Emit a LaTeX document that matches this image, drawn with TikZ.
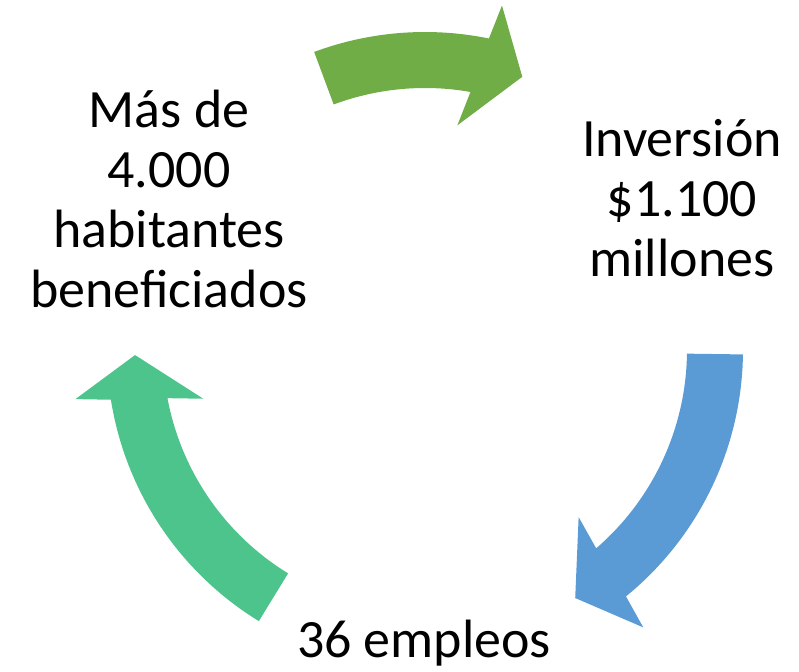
\documentclass[tikz,border=0pt]{standalone}
\usepackage{fontspec}
\setmainfont{Carlito}
\usepackage{tikz}
\definecolor{arrowgreen}{RGB}{112,173,71}
\definecolor{arrowblue}{RGB}{91,155,213}
\definecolor{arrowteal}{RGB}{78,196,141}
% curved block arrow on the cycle: tail angle, tip angle
\def\cyclearrow[#1](#2:#3){\fill[#1] (#2:318) arc[start angle=#2, end angle=#3+8, radius=318] -- (#3+7:353) -- (#3:290) -- (#3+11.4:227) -- (#3+9.6:262) arc[start angle=#3+9.6, end angle=#2, radius=262] -- cycle;}
\tikzset{cyclelabel/.style={align=center, inner sep=0pt, anchor=base, font={\fontsize{30.7}{34.3}\selectfont}}}

\begin{document}
\begin{tikzpicture}[x=0.02cm, y=0.02cm]
			%%%%% START %%%%%
			\useasboundingbox (-425, -322) rectangle (374, 350);
			
			\cyclearrow[arrowgreen](110.4:70.4);
			\cyclearrow[arrowblue](-0.8:-58.8);
			\cyclearrow[arrowteal](238.5:181);
			
			% base = baseline of the last line
			\node[cyclelabel] (habitantes) at (-256, 42) {Más de\\4.000\\habitantes\\beneficiados};
			\node[cyclelabel] (inversion) at (257, 73) {Inversión\\\$1.100\\millones};
			\node[cyclelabel] (empleos) at (-1, -308) {36 empleos};
			%%%%% END %%%%%
\end{tikzpicture}
\end{document}
